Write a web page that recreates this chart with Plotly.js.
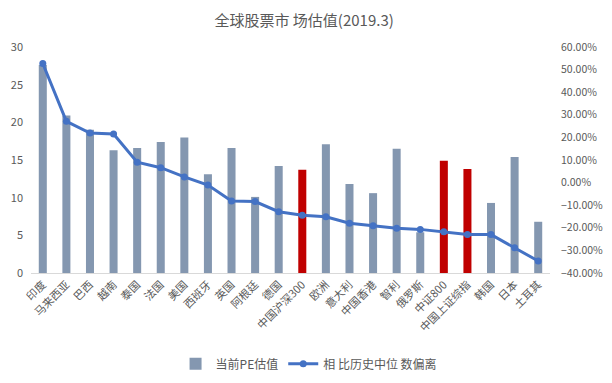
<!DOCTYPE html>
<html>
<head>
<meta charset="utf-8">
<script src="https://cdn.plot.ly/plotly-3.0.1.min.js"></script>
<style>html,body{margin:0;padding:0;background:#fff;}#chart{width:612px;height:383px;}</style>
</head>
<body>
<div id="chart"></div>
<script>
const categories = ["印度","马来西亚","巴西","越南","泰国","法国","美国","西班牙","英国","阿根廷","德国","中国沪深300","欧洲","意大利","中国香港","智利","俄罗斯","中证800","中国上证综指","韩国","日本","土耳其"];
const peValues = [27.6,20.9,19.0,16.3,16.6,17.4,18.0,13.1,16.6,10.1,14.2,13.7,17.1,11.8,10.6,16.5,5.4,14.9,13.8,9.3,15.4,6.8];
const deviation = [0.527,0.271,0.219,0.215,0.090,0.066,0.025,-0.011,-0.081,-0.084,-0.129,-0.144,-0.151,-0.180,-0.191,-0.202,-0.207,-0.217,-0.230,-0.230,-0.288,-0.347];
const highlighted = ["中国沪深300","中证800","中国上证综指"];
const barName = "当前PE估值";
const lineName = "相 比历史中位 数偏离";
const titleText = "全球股票市 场估值(2019.3)";

const barColors = categories.map(c => highlighted.includes(c) ? "#C00000" : "#8497B0");
const font = "'Noto Sans CJK SC', 'Noto Sans', sans-serif";

const traces = [
  {type:"bar", x:categories, y:peValues, name:barName, marker:{color:barColors}, width:0.34, yaxis:"y"},
  {type:"scatter", mode:"lines+markers", x:categories, y:deviation, name:lineName, yaxis:"y2",
   line:{color:"#4472C4", width:3}, marker:{color:"#4472C4", size:7}}
];

const layout = {
  width:612, height:383,
  margin:{l:31, r:62, t:47, b:110},
  paper_bgcolor:"#fff", plot_bgcolor:"#fff",
  font:{family:font, color:"#595959", size:11},
  title:{text:titleText, x:0.497, xanchor:"center", y:0.947, yanchor:"middle", font:{size:15, color:"#595959", family:font}},
  showlegend:true,
  legend:{orientation:"h", xref:"container", x:0.505, xanchor:"center", yref:"container", y:0.05, yanchor:"middle", font:{size:12, color:"#595959"}, traceorder:"normal", itemwidth:30},
  xaxis:{type:"category", range:[-0.5, categories.length - 0.5], automargin:false, tickangle:-45, showgrid:false, showline:true, linecolor:"#D9D9D9", linewidth:1, ticks:"", tickfont:{size:11, color:"#595959"}},
  yaxis:{range:[0,30], automargin:false, dtick:5, showgrid:false, zeroline:false, showline:false, ticks:"", ticklabelstandoff:7, tickfont:{size:11, color:"#595959"}},
  yaxis2:{range:[-0.4,0.6], automargin:false, dtick:0.1, tickformat:".2%", overlaying:"y", side:"right", showgrid:false, zeroline:false, showline:false, ticks:"", ticklabelstandoff:10, tickfont:{size:10.5, color:"#595959"}}
};

Plotly.newPlot("chart", traces, layout, {displayModeBar:false, staticPlot:true});
</script>
</body>
</html>
